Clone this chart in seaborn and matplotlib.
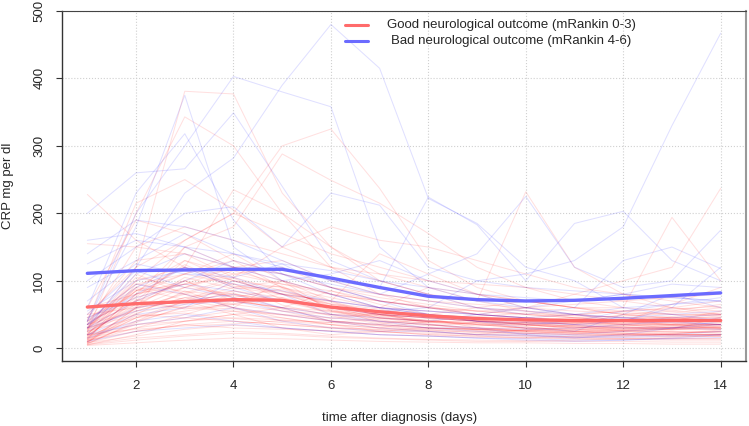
import numpy as np
import pandas as pd
import matplotlib
matplotlib.use("Agg")
import matplotlib.pyplot as plt
from matplotlib.lines import Line2D
import seaborn as sns

days = list(range(1, 15))

good_patients = [
    [228, 160, 120, 100, 80, 60, 50, 45, 40, 38, 36, 35, 34, 33],
    [30, 120, 381, 377, 230, 150, 100, 80, 60, 50, 45, 40, 38, 35],
    [25, 200, 343, 300, 200, 120, 80, 60, 50, 45, 40, 35, 30, 30],
    [20, 100, 160, 200, 300, 325, 237, 130, 90, 70, 60, 50, 45, 45],
    [15, 80, 150, 180, 288, 249, 215, 170, 120, 90, 70, 60, 55, 50],
    [40, 215, 250, 205, 150, 120, 100, 80, 70, 232, 120, 80, 60, 50],
    [30, 85, 120, 235, 200, 150, 110, 90, 80, 70, 60, 60, 194, 100],
    [10, 60, 80, 100, 90, 70, 60, 55, 50, 60, 80, 100, 120, 237],
    [155, 150, 140, 120, 100, 80, 70, 60, 50, 45, 40, 38, 36, 35],
    [60, 190, 170, 130, 110, 90, 80, 70, 60, 55, 50, 45, 45, 45],
    [35, 150, 180, 160, 140, 120, 110, 100, 95, 90, 80, 70, 60, 55],
    [50, 120, 160, 200, 170, 140, 120, 100, 80, 70, 60, 55, 50, 48],
    [20, 90, 130, 110, 95, 80, 70, 60, 55, 50, 45, 42, 40, 40],
    [18, 70, 100, 120, 130, 100, 80, 70, 65, 60, 55, 52, 50, 50],
    [12, 95, 110, 140, 100, 70, 50, 40, 35, 30, 28, 26, 25, 25],
    [8, 60, 90, 80, 70, 60, 50, 45, 40, 38, 36, 34, 32, 30],
    [30, 100, 120, 90, 80, 60, 45, 40, 35, 30, 28, 26, 24, 22],
    [25, 85, 110, 130, 90, 60, 50, 45, 40, 35, 30, 30, 28, 28],
    [6, 40, 70, 90, 100, 80, 60, 50, 40, 35, 30, 28, 28, 28],
    [14, 55, 75, 85, 70, 55, 45, 40, 38, 36, 34, 32, 30, 30],
    [22, 75, 95, 105, 85, 65, 55, 50, 45, 40, 38, 36, 35, 35],
    [40, 90, 80, 70, 60, 50, 45, 40, 38, 35, 33, 31, 30, 30],
    [10, 30, 50, 70, 60, 40, 30, 25, 20, 18, 16, 15, 14, 14],
    [5, 20, 40, 50, 45, 35, 25, 20, 18, 15, 14, 13, 12, 12],
    [35, 65, 60, 55, 50, 45, 40, 38, 36, 34, 32, 30, 30, 30],
    [28, 110, 80, 60, 100, 55, 40, 35, 30, 28, 25, 22, 20, 20],
    [16, 50, 85, 60, 45, 35, 30, 28, 25, 22, 20, 20, 18, 18],
    [45, 80, 100, 75, 55, 40, 35, 30, 28, 26, 25, 25, 24, 24],
    [12, 45, 55, 65, 75, 50, 38, 30, 26, 24, 22, 20, 20, 20],
    [8, 25, 35, 40, 35, 30, 25, 20, 18, 16, 15, 14, 14, 14],
    [4, 8, 12, 15, 14, 12, 10, 9, 8, 8, 7, 7, 6, 6],
    [6, 15, 20, 25, 22, 18, 15, 13, 12, 11, 10, 10, 9, 9],
    [50, 60, 70, 60, 50, 40, 35, 30, 28, 25, 22, 20, 20, 20],
    [30, 70, 90, 110, 120, 90, 70, 60, 55, 60, 65, 70, 75, 80],
    [20, 40, 60, 80, 70, 60, 55, 50, 60, 70, 60, 50, 55, 65],
    [35, 55, 75, 65, 55, 50, 48, 46, 44, 42, 45, 48, 52, 60],
    [10, 35, 45, 55, 40, 35, 30, 40, 35, 30, 35, 40, 45, 50],
    [15, 30, 40, 50, 60, 55, 50, 45, 40, 45, 50, 55, 60, 70],
    [25, 45, 65, 85, 75, 60, 45, 35, 30, 25, 30, 35, 40, 55],
    [40, 70, 130, 100, 80, 70, 140, 110, 80, 60, 50, 40, 35, 30],
    [20, 60, 150, 120, 90, 75, 60, 90, 70, 55, 45, 40, 35, 35],
    [12, 25, 35, 30, 28, 26, 24, 22, 20, 28, 26, 24, 22, 25],
    [8, 18, 28, 34, 30, 25, 20, 18, 16, 15, 18, 20, 22, 24],
    [5, 12, 18, 22, 20, 16, 14, 12, 10, 10, 12, 14, 16, 18],
    [30, 50, 45, 40, 35, 30, 28, 26, 24, 22, 20, 18, 18, 18],
    [18, 35, 40, 45, 42, 38, 34, 30, 28, 26, 24, 22, 20, 20],
    [60, 80, 110, 95, 80, 65, 55, 50, 45, 40, 38, 36, 34, 32],
    [35, 85, 95, 120, 110, 90, 75, 65, 55, 50, 48, 46, 44, 42],
    [22, 65, 100, 70, 60, 85, 65, 50, 40, 38, 36, 50, 45, 40],
    [10, 45, 70, 50, 30, 20, 25, 30, 28, 26, 24, 22, 20, 20],
    [20, 28, 33, 36, 41, 38, 44, 40, 47, 52, 49, 55, 58, 62],
    [45, 130, 140, 105, 150, 180, 160, 150, 130, 110, 90, 80, 70, 60],
    [26, 105, 90, 115, 95, 85, 70, 62, 50, 45, 42, 40, 65, 90],
    [15, 80, 95, 75, 88, 62, 50, 38, 42, 35, 30, 33, 36, 44],
    [32, 88, 72, 96, 64, 48, 36, 44, 30, 26, 34, 28, 31, 38],
    [9, 52, 68, 82, 58, 44, 52, 36, 28, 32, 25, 29, 34, 41],
    [24, 62, 105, 88, 92, 58, 42, 33, 38, 29, 27, 31, 27, 33],
    [18, 72, 58, 66, 81, 69, 47, 39, 33, 37, 32, 26, 29, 35],
    [42, 95, 84, 78, 69, 53, 49, 41, 36, 33, 38, 42, 47, 52],
    [7, 38, 62, 58, 49, 41, 33, 27, 23, 21, 24, 27, 30, 36],
    [28, 58, 82, 104, 72, 57, 39, 35, 27, 24, 22, 25, 28, 46],
    [13, 48, 52, 44, 38, 31, 27, 24, 21, 19, 17, 18, 21, 27],
    [37, 76, 124, 92, 84, 66, 58, 46, 41, 36, 40, 37, 42, 48],
]

bad_patients = [
    [30, 120, 230, 282, 390, 480, 415, 222, 185, 120, 100, 60, 50, 40],
    [40, 200, 300, 403, 380, 358, 150, 90, 70, 60, 50, 45, 40, 35],
    [40, 180, 375, 150, 100, 80, 60, 50, 45, 40, 35, 30, 30, 28],
    [200, 260, 266, 349, 240, 130, 100, 80, 60, 55, 50, 45, 40, 40],
    [60, 230, 318, 190, 110, 90, 70, 60, 50, 45, 40, 40, 38, 35],
    [100, 150, 200, 210, 150, 230, 212, 120, 100, 90, 85, 80, 75, 70],
    [35, 80, 120, 90, 70, 60, 55, 60, 100, 110, 130, 180, 330, 467],
    [140, 190, 180, 160, 130, 100, 90, 224, 183, 100, 185, 203, 130, 100],
    [125, 160, 150, 120, 110, 95, 80, 110, 140, 225, 120, 90, 100, 175],
    [90, 130, 170, 140, 120, 100, 80, 70, 60, 50, 60, 130, 150, 118],
    [35, 110, 140, 120, 100, 110, 130, 100, 80, 60, 50, 40, 60, 120],
    [30, 70, 100, 130, 110, 80, 60, 50, 40, 30, 25, 50, 80, 60],
    [20, 50, 60, 100, 80, 50, 40, 30, 30, 20, 15, 20, 30, 40],
    [15, 40, 50, 40, 30, 25, 20, 18, 15, 12, 10, 12, 15, 20],
    [70, 125, 110, 105, 125, 90, 70, 50, 40, 35, 40, 45, 50, 55],
    [40, 95, 80, 60, 40, 30, 25, 25, 20, 20, 18, 18, 20, 25],
    [25, 60, 70, 80, 60, 40, 35, 30, 25, 22, 20, 25, 30, 35],
    [50, 115, 90, 75, 60, 50, 45, 40, 50, 45, 40, 55, 65, 75],
    [10, 25, 30, 35, 30, 25, 20, 18, 15, 14, 12, 12, 14, 16],
    [160, 170, 150, 140, 125, 115, 100, 90, 80, 75, 70, 80, 95, 90],
    [35, 90, 120, 105, 80, 70, 60, 55, 50, 60, 70, 80, 75, 70],
    [45, 75, 95, 85, 70, 60, 50, 45, 40, 38, 35, 40, 45, 50],
    [20, 35, 45, 60, 50, 40, 30, 25, 20, 18, 16, 16, 18, 20],
    [55, 100, 115, 95, 85, 70, 60, 55, 50, 45, 50, 60, 65, 70],
    [30, 55, 65, 70, 55, 45, 40, 35, 30, 28, 30, 35, 40, 45],
]

good_mean = [61, 66, 69, 72, 71, 61, 54, 48, 44, 42, 41, 41, 41, 41]
bad_mean = [111, 115, 116, 117, 117, 104, 90, 77, 72, 70, 71, 74, 78, 82]

x_ticks = [2, 4, 6, 8, 10, 12, 14]
y_ticks = [0, 100, 200, 300, 400, 500]
legend_labels = ["Good neurological outcome (mRankin 0-3)",
                 "Bad neurological outcome (mRankin 4-6)"]

rows = []
for gname, plist in (("good", good_patients), ("bad", bad_patients)):
    for pid, vals in enumerate(plist):
        for d, v in zip(days, vals):
            rows.append({"group": gname, "patient": f"{gname}{pid}", "day": d, "crp": v})
df = pd.DataFrame(rows)
mean_df = pd.DataFrame({
    "day": days * 2,
    "crp": good_mean + bad_mean,
    "group": ["good"] * len(days) + ["bad"] * len(days),
})

sns.set_style("white")
plt.rcParams["font.family"] = ["Liberation Sans", "DejaVu Sans"]

fig = plt.figure(figsize=(7.49, 4.26), dpi=100)
ax = fig.add_axes([62 / 749, 1 - 361 / 426, (746 - 62) / 749, (361 - 11) / 426])

thin = {"good": (1.0, 0.0, 0.0), "bad": (0.0, 0.0, 1.0)}
sns.lineplot(data=df[df.group == "good"], x="day", y="crp", units="patient",
             estimator=None, color=thin["good"], lw=0.75, alpha=0.12, ax=ax, legend=False)
sns.lineplot(data=df[df.group == "bad"], x="day", y="crp", units="patient",
             estimator=None, color=thin["bad"], lw=0.75, alpha=0.12, ax=ax, legend=False)

mean_cols = {"good": "#ff6b6b", "bad": "#6b6bff"}
sns.lineplot(data=mean_df, x="day", y="crp", hue="group", palette=mean_cols,
             estimator=None, lw=2.4, ax=ax, legend=False)

ax.set_xlim(0.48, 14.52)
ax.set_ylim(-19, 500)
ax.set_xticks(x_ticks)
ax.set_yticks(y_ticks)
ax.set_xticklabels([str(t) for t in x_ticks], fontsize=9.5)
ax.set_yticklabels([str(t) for t in y_ticks], fontsize=9.5, rotation=90, va="center")
ax.tick_params(axis="x", direction="out", length=4, width=0.8, color="#333333", pad=10, bottom=True)
ax.tick_params(axis="y", direction="out", length=4, width=0.8, color="#333333", pad=8, left=True)
ax.grid(True, ls=":", color="#d0d0d0", lw=0.8)
ax.set_axisbelow(True)

for s in ("left", "bottom"):
    ax.spines[s].set_color("#333333")
    ax.spines[s].set_linewidth(1.0)
ax.spines["top"].set_color("#444444")
ax.spines["top"].set_linestyle((0, (2, 1)))
ax.spines["top"].set_linewidth(0.8)
ax.spines["right"].set_color("#999999")
ax.spines["right"].set_linewidth(1.5)

ax.set_xlabel("")
ax.set_ylabel("")
fig.text(400 / 749, 1 - 418 / 426, "time after diagnosis (days)", ha="center", va="center", fontsize=9.5)
fig.text(8 / 749, 1 - 186 / 426, "CRP mg per dl", ha="center", va="center", rotation=90, fontsize=9.5)

# legend
for i, (lab, g) in enumerate(zip(legend_labels, ("good", "bad"))):
    yy = 1 - (25 + 16 * i) / 426
    fig.add_artist(Line2D([345 / 749, 368 / 749], [yy, yy], color=mean_cols[g], lw=2.2,
                          transform=fig.transFigure))
    fig.text(511 / 749, yy, lab, ha="center", va="center", fontsize=9.5)

fig.savefig("out.png", dpi=100)
